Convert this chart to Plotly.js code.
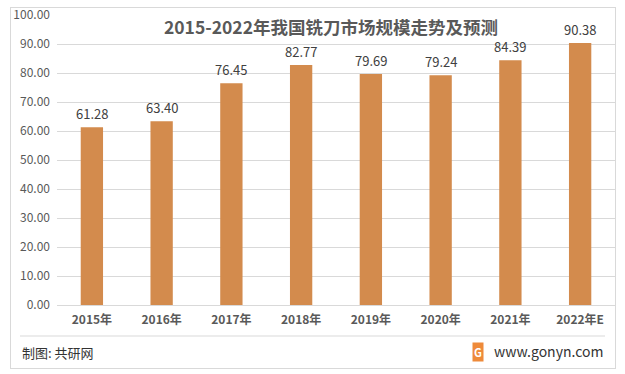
<!DOCTYPE html>
<html>
<head>
<meta charset="utf-8">
<script src="https://cdn.plot.ly/plotly-3.0.1.min.js"></script>
<style>
html,body{margin:0;padding:0;background:#fff;}
#wrap{position:relative;width:625px;height:374px;}
#chart{width:625px;height:374px;}
#frame{position:absolute;left:10px;top:7px;width:604px;height:360px;border:1px solid #D9D9D9;pointer-events:none;}
</style>
</head>
<body>
<div id="wrap"><div id="chart"></div><div id="frame"></div></div>
<script>
const years = ["2015年","2016年","2017年","2018年","2019年","2020年","2021年","2022年E"];
const values = [61.28, 63.40, 76.45, 82.77, 79.69, 79.24, 84.39, 90.38];
const titleText = "2015-2022年我国铣刀市场规模走势及预测";
const sourceText = "制图: 共研网";
const siteText = "www.gonyn.com";

const F = '"Noto Sans CJK SC", "Noto Sans", sans-serif';
const trace = {
  type: 'bar',
  x: years,
  y: values,
  marker: {color: '#D38B4D'},
  hoverinfo: 'skip'
};
const valueLabels = years.map((c, i) => ({
  x: c, y: values[i], xref: 'x', yref: 'y', text: values[i].toFixed(2),
  showarrow: false, yanchor: 'bottom', yshift: 2,
  font: {family: F, size: 13, color: '#404040'}
}));
const layout = {
  width: 625, height: 374,
  margin: {l: 57, r: 10, t: 15, b: 69},
  paper_bgcolor: '#fff', plot_bgcolor: '#fff',
  bargap: 0.68,
  showlegend: false,
  title: {text: titleText, x: 0.491, xref: 'paper', y: 1 - 28/374, yref: 'container', yanchor: 'middle', xanchor: 'center',
          font: {family: F, size: 17.5, color: '#595959', weight: 'bold'}},
  xaxis: {tickfont: {family: F, size: 12, color: '#595959', weight: 'bold'}, showline: false, ticks: '', ticklabelstandoff: 6, fixedrange: true},
  yaxis: {range: [0, 100], dtick: 10, tickformat: '.2f', gridcolor: '#D9D9D9', gridwidth: 1,
          zeroline: true, zerolinecolor: '#D9D9D9', zerolinewidth: 1,
          tickfont: {family: F, size: 12, color: '#595959'}, ticklabelstandoff: 6, fixedrange: true},
  shapes: [
    {type: 'line', xref: 'paper', yref: 'paper', x0: (20-57)/558, x1: (605-57)/558, y0: (305-336)/290, y1: (305-336)/290,
     line: {color: '#D9D9D9', width: 1}}
  ],
  annotations: valueLabels.concat([
    {text: sourceText, xref: 'paper', yref: 'paper', x: (20-57)/558, y: (305-352)/290, xanchor: 'left', yanchor: 'middle',
     showarrow: false, font: {family: F, size: 13, color: '#333'}},
    {text: siteText, xref: 'paper', yref: 'paper', x: (605-57)/558, y: (305-351)/290, xanchor: 'right', yanchor: 'middle',
     showarrow: false, font: {family: F, size: 14, color: '#333'}},
    {text: '<b>G</b>', xref: 'paper', yref: 'paper', x: (478-57)/558, y: (305-352)/290, xanchor: 'center', yanchor: 'middle',
     showarrow: false, bgcolor: '#EE8A3A', borderpad: 1, font: {family: F, size: 11, color: '#fff'}}
  ])
};
Plotly.newPlot('chart', [trace], layout, {displayModeBar: false, staticPlot: true});
</script>
</body>
</html>
